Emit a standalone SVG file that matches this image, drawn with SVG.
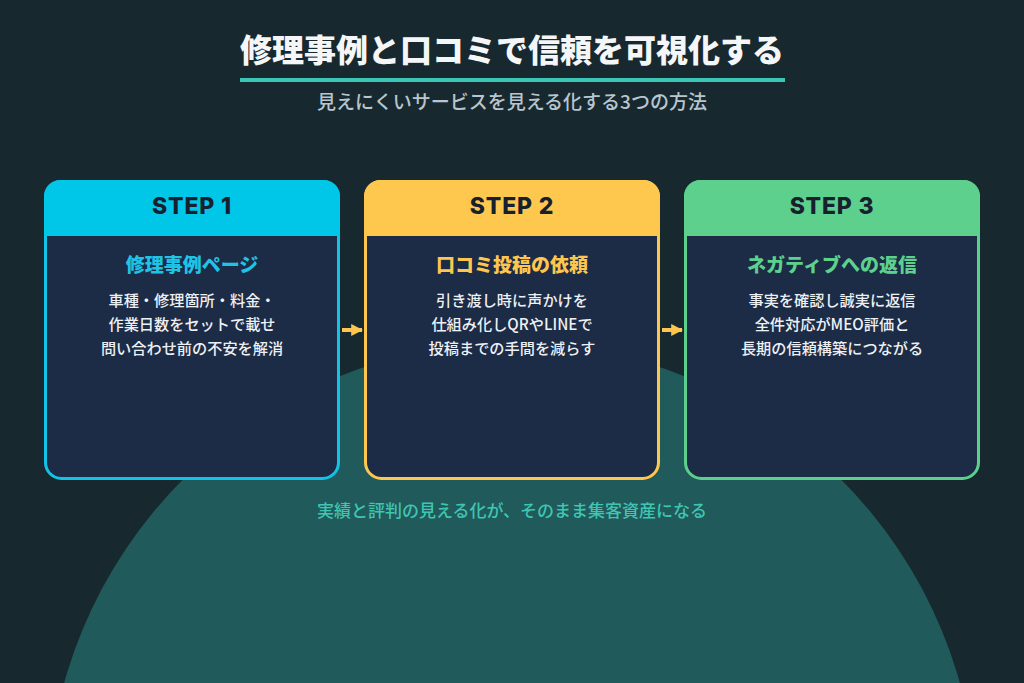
<svg xmlns="http://www.w3.org/2000/svg" width="1024" height="683" viewBox="0 0 1024 683">
  <style>
    .jp { font-family: "Noto Sans CJK JP", "Noto Sans", sans-serif; }
    .title { font-size: 32px; font-weight: 900; fill: #f4f6f8; }
    .sub { font-size: 19px; font-weight: 500; fill: #b9c5cf; }
    .step { font-family: Inter, "Liberation Sans", sans-serif; font-size: 23px; font-weight: 800; fill: #17202e; letter-spacing: 0.8px; }
    .head { font-size: 19px; font-weight: 900; }
    .body { font-size: 15.2px; font-weight: 500; fill: #eef1f4; }
    .card-body { fill: #1c2b46; stroke-width: 3; }
    .foot { font-size: 17px; font-weight: 500; fill: #3fc6b2; }
  </style>
  <defs>
    <marker id="arrowhead" viewBox="0 0 10 10" refX="9" refY="5" markerWidth="3" markerHeight="3.6" orient="auto" markerUnits="strokeWidth">
      <path d="M0,0 L10,5 L0,10 Z" fill="#fdc64f"/>
    </marker>
  </defs>

  <!-- background -->
  <rect width="1024" height="683" fill="#17292f"/>
  <circle cx="512" cy="808" r="465" fill="#215a5b"/>

  <!-- heading -->
  <g id="header">
    <text class="jp title" x="512" y="62" text-anchor="middle">修理事例と口コミで信頼を可視化する</text>
    <rect x="240" y="78" width="545" height="4" fill="#3cc6b6"/>
    <text class="jp sub" x="512" y="109" text-anchor="middle">見えにくいサービスを見える化する3つの方法</text>
  </g>

  <!-- step 1 -->
  <g id="step1">
    <rect class="card-body" x="45.5" y="181.5" width="293" height="297" rx="16" stroke="#12c3e6"/>
    <path d="M44,236 V196 A16,16 0 0 1 60,180 H324 A16,16 0 0 1 340,196 V236 Z" fill="#00c6e8"/>
    <text class="step" x="192" y="214" text-anchor="middle">STEP 1</text>
    <text class="jp head" x="192" y="272" text-anchor="middle" fill="#1fc3e6">修理事例ページ</text>
    <text class="jp body" x="192" y="306" text-anchor="middle">車種・修理箇所・料金・</text>
    <text class="jp body" x="192" y="330" text-anchor="middle">作業日数をセットで載せ</text>
    <text class="jp body" x="192" y="354" text-anchor="middle">問い合わせ前の不安を解消</text>
  </g>

  <!-- step 2 -->
  <g id="step2">
    <rect class="card-body" x="365.5" y="181.5" width="293" height="297" rx="16" stroke="#fdc64f"/>
    <path d="M364,236 V196 A16,16 0 0 1 380,180 H644 A16,16 0 0 1 660,196 V236 Z" fill="#fec84f"/>
    <text class="step" x="512" y="214" text-anchor="middle">STEP 2</text>
    <text class="jp head" x="512" y="272" text-anchor="middle" fill="#fdc64f">口コミ投稿の依頼</text>
    <text class="jp body" x="512" y="306" text-anchor="middle">引き渡し時に声かけを</text>
    <text class="jp body" x="512" y="330" text-anchor="middle">仕組み化しQRやLINEで</text>
    <text class="jp body" x="512" y="354" text-anchor="middle">投稿までの手間を減らす</text>
  </g>

  <!-- step 3 -->
  <g id="step3">
    <rect class="card-body" x="685.5" y="181.5" width="293" height="297" rx="16" stroke="#5ccf8c"/>
    <path d="M684,236 V196 A16,16 0 0 1 700,180 H964 A16,16 0 0 1 980,196 V236 Z" fill="#5cd08c"/>
    <text class="step" x="832" y="214" text-anchor="middle">STEP 3</text>
    <text class="jp head" x="832" y="272" text-anchor="middle" fill="#5cd08c">ネガティブへの返信</text>
    <text class="jp body" x="832" y="306" text-anchor="middle">事実を確認し誠実に返信</text>
    <text class="jp body" x="832" y="330" text-anchor="middle">全件対応がMEO評価と</text>
    <text class="jp body" x="832" y="354" text-anchor="middle">長期の信頼構築につながる</text>
  </g>

  <!-- connectors -->
  <g id="connectors" stroke="#fdc64f" stroke-width="4" fill="none">
    <line x1="342" y1="330" x2="362" y2="330" marker-end="url(#arrowhead)"/>
    <line x1="662" y1="330" x2="682" y2="330" marker-end="url(#arrowhead)"/>
  </g>

  <!-- footer -->
  <g id="footer">
    <text class="jp foot" x="512" y="517" text-anchor="middle">実績と評判の見える化が、そのまま集客資産になる</text>
  </g>
</svg>
